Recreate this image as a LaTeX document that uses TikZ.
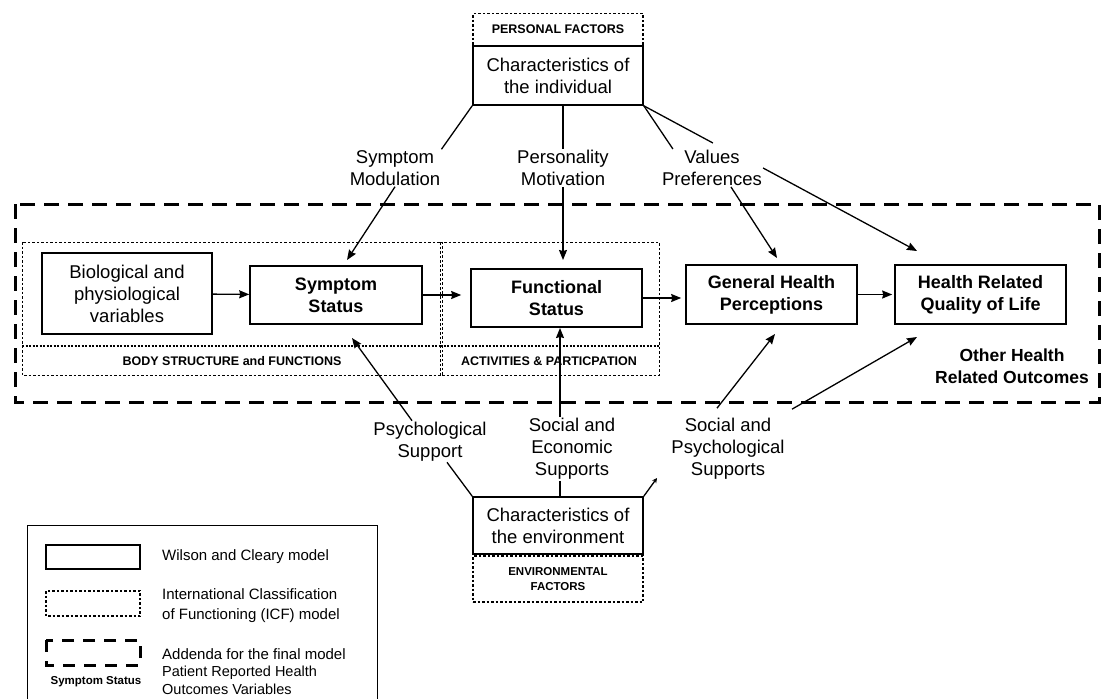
\documentclass[tikz,border=0pt]{standalone}
\usepackage{fontspec}
\setmainfont{Liberation Sans}
\usetikzlibrary{arrows.meta}

\begin{document}
\begin{tikzpicture}[x=1pt, y=-1pt, >={Stealth[length=10pt, width=8pt, inset=1pt]},
  wcbox/.style={draw, line width=1.6pt, minimum width=170pt, align=center, inner sep=0pt,
    font=\fontsize{18.5}{22}\selectfont},
  outcome/.style={wcbox, font=\fontsize{18}{22}\selectfont\bfseries},
  lbl/.style={align=center, inner sep=1pt, font=\fontsize{18.5}{22}\selectfont},
  icf/.style={line width=1pt, dash pattern=on 2.5pt off 2pt},
  icfbar/.style={line width=2.2pt, dash pattern=on 2pt off 1.5pt},
  caps/.style={align=center, inner sep=0pt, font=\fontsize{12.5}{15}\selectfont\bfseries},
  link/.style={line width=1.3pt},
  addenda/.style={line width=3pt, dash pattern=on 15pt off 9pt},
  legtext/.style={anchor=west, align=left, inner sep=0pt, font=\fontsize{15}{20}\selectfont}]

  \useasboundingbox (0,0) rectangle (1101,699);

  % addenda for the final model (big dashed frame)
  \draw[addenda] (15,204) rectangle (1099,402);

  % ICF frames
  \draw[icf] (22,242) rectangle (442,375);
  \draw[icfbar] (22,346) -- (442,346);
  \node[caps] (bsf) at (232,361) {BODY STRUCTURE and FUNCTIONS};
  \draw[icf] (440,242) rectangle (659,375);
  \draw[icfbar] (440,346) -- (659,346);
  \node[caps] (actp) at (549,361) {ACTIVITIES \& PARTICPATION};

  % personal factors on top
  \node[wcbox, minimum height=59pt] (indiv) at (558,75.5) {Characteristics of\\the individual};
  \node[caps, draw, icf, line width=1.5pt, minimum width=170pt, minimum height=32pt]
    (pfac) at (558,29.5) {PERSONAL FACTORS};

  % Wilson and Cleary chain
  \node[wcbox, minimum height=81pt] (bio) at (127,293.5) {Biological and\\physiological\\variables};
  \node[outcome, minimum width=172pt, minimum height=58pt] (sym) at (336,295) {Symptom\\Status};
  \node[outcome, minimum width=171pt, minimum height=58pt] (fun) at (556.5,298) {Functional\\Status};
  \node[outcome, minimum width=171pt, minimum height=59pt] (ghp) at (771.5,294.5) {General Health\\Perceptions};
  \node[outcome, minimum width=171pt, minimum height=59pt] (hrq) at (980.5,294.5) {Health Related\\Quality of Life};
  \node[lbl, font=\fontsize{17.5}{22}\selectfont\bfseries] (other) at (1012,366) {Other Health\\Related Outcomes};

  % environment at the bottom
  \node[wcbox, minimum height=57pt] (env) at (558,525.5) {Characteristics of\\the environment};
  \node[caps, draw, icf, line width=1.5pt, minimum width=170pt, minimum height=46pt,
    font=\fontsize{11.5}{15}\selectfont\bfseries] (efac) at (558,579) {ENVIRONMENTAL\\FACTORS};

  % mediating labels
  \node[lbl] (smod) at (395,168) {Symptom\\Modulation};
  \node[lbl] (pmot) at (563,168) {Personality\\Motivation};
  \node[lbl] (vpref) at (712,168) {Values\\Preferences};
  \node[lbl] (psup) at (430,441.5) {Psychological\\Support};
  \node[lbl] (sesup) at (572,449) {Social and\\Economic\\Supports};
  \node[lbl] (spsup) at (728,449) {Social and\\Psychological\\Supports};

  \coordinate (smtip) at (347,260);
  \coordinate (pmtip) at (563,260);
  \coordinate (vgtip) at (777,258);
  \coordinate (vhtip) at (917,251);
  \coordinate (pstip) at (352,338);
  \coordinate (fstip) at (560,328);
  \coordinate (sgtip) at (775,334);
  \coordinate (shtip) at (917,337);
  \coordinate (etick) at (657,478);

  % main chain
  \draw[link, ->] (bio) -- (sym);
  \draw[link, ->, shorten >=9pt] (sym) -- (sym -| fun.west);
  \draw[link, ->, shorten >=4pt] (fun.east) -- (fun.east -| ghp.west);
  \draw[link, ->, shorten >=2pt] (ghp) -- (hrq);

  % from the individual
  \draw[link] (indiv.south west) -- (smod.north east);
  \draw[link, ->] (smod.south) -- (smtip);
  \draw[link] (pmot.north |- indiv.south) -- (pmot.north);
  \draw[link, ->] (pmot.south) -- (pmtip);
  \draw[link] (indiv.south east) -- ([xshift=12pt]vpref.north west);
  \draw[link] (indiv.south east) -- ([xshift=52pt, yshift=6pt]vpref.north west);
  \draw[link, ->] (vpref.-45) -- (vgtip);
  \draw[link, ->] (vpref.east) -- (vhtip);

  % from the environment
  \draw[link, ->] ([xshift=-18pt]psup.north) -- (pstip);
  \draw[link] (env.north west) -- ([xshift=17pt]psup.south);
  \draw[link, ->] ([xshift=-12pt]sesup.north) -- (fstip);
  \draw[link] ([xshift=-12pt]sesup.south) -- ([xshift=2pt]env.north);
  \draw[link, -{Stealth[length=5pt, width=5pt]}] (env.north east) -- (etick);
  \draw[link, ->] ([xshift=-11pt, yshift=9pt]spsup.north) -- (sgtip);
  \draw[link, ->] ([xshift=64pt, yshift=8pt]spsup.north) -- (shtip);

  % legend
  \draw[line width=1pt] (27,699) -- (27,525) -- (377,525) -- (377,699);
  \draw[line width=1.5pt] (46,545) rectangle (140,569);
  \draw[icf, line width=1.3pt] (46,591) rectangle (140,616);
  \draw[addenda, dash pattern=on 12pt off 9pt] (46,640) rectangle (140,665);
  \node[inner sep=0pt, font=\fontsize{11.5}{14}\selectfont\bfseries] (legsym) at (96,682) {Symptom Status};
  \node[legtext] (legwc) at (162,557) {Wilson and Cleary model};
  \node[legtext] (legicf) at (162,605.5) {International Classification\\of Functioning (ICF) model};
  \node[legtext] (legadd) at (162,654) {Addenda for the final model};
  \node[legtext, font=\fontsize{14.5}{18}\selectfont] (legpro) at (162,680) {Patient Reported Health\\Outcomes Variables};
\end{tikzpicture}
\end{document}
